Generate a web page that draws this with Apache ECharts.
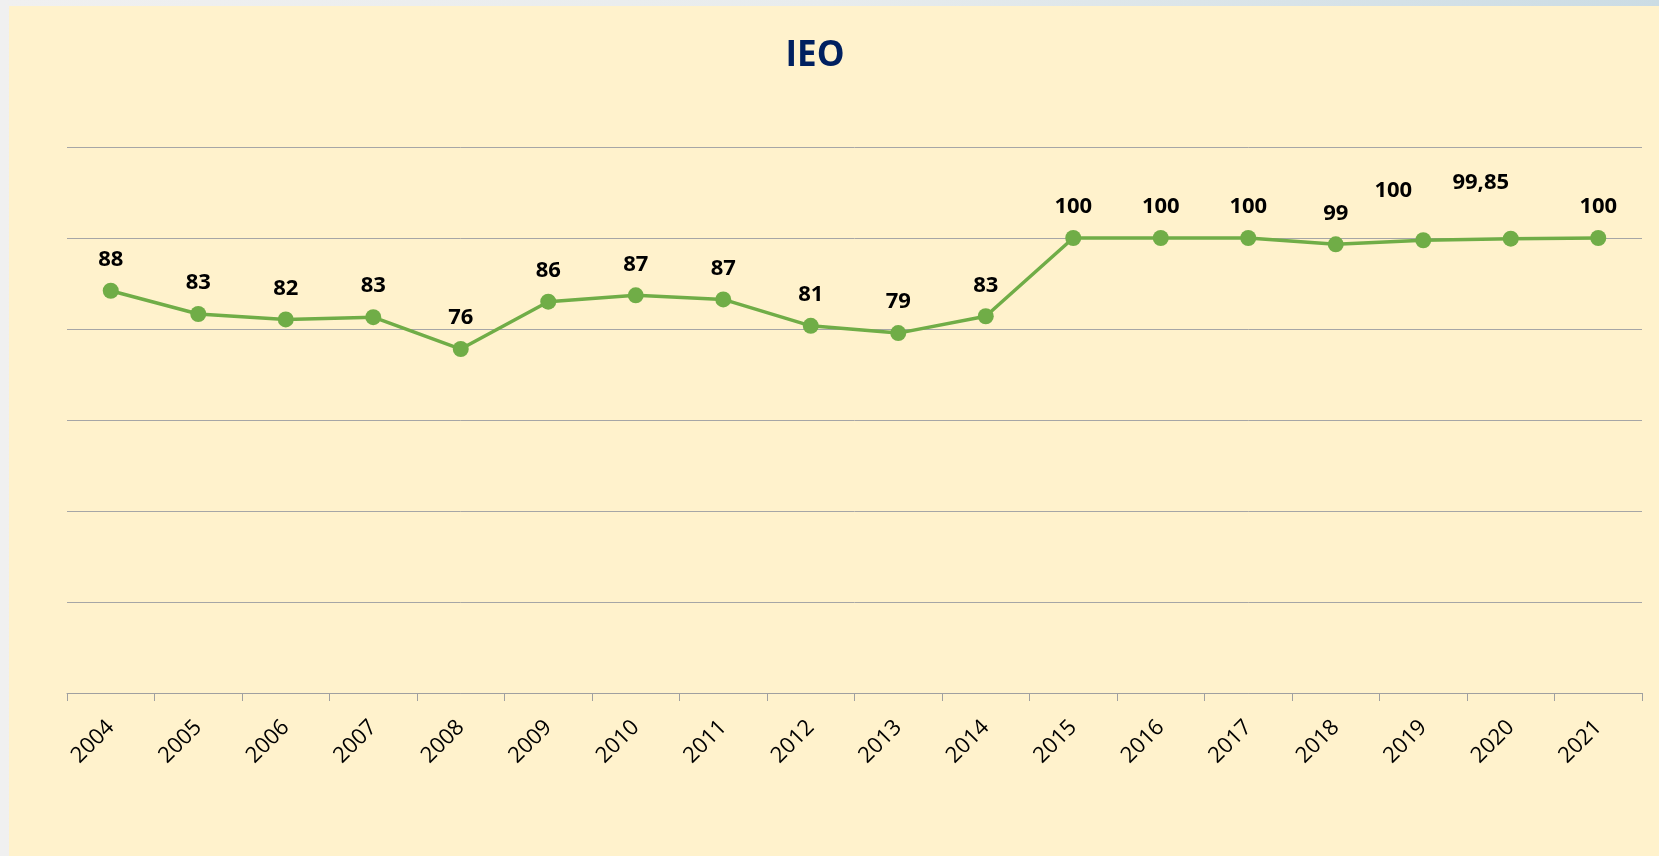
<!DOCTYPE html>
<html>
<head>
<meta charset="utf-8">
<script src="https://cdn.jsdelivr.net/npm/echarts@6/dist/echarts.min.js"></script>
<style>
  html, body {
    margin: 0;
    padding: 0;
    width: 1659px;
    height: 856px;
    overflow: hidden;
    background: linear-gradient(90deg, #f0f0f0 0%, #e8eced 50%, #cbdce4 100%);
  }
  .panel {
    position: absolute;
    left: 9px;
    top: 6px;
    right: 0;
    bottom: 0;
    background: #fff2cc;
  }
  #chart {
    position: absolute;
    left: 0;
    top: 0;
    width: 1659px;
    height: 856px;
  }
</style>
</head>
<body>
<div class="panel"></div>
<div id="chart"></div>
<script>
// anni
var years = ['2004', '2005', '2006', '2007', '2008', '2009', '2010', '2011', '2012',
  '2013', '2014', '2015', '2016', '2017', '2018', '2019', '2020', '2021']
// valori IEO
var ieoValues = [88.4, 83.3, 82.1, 82.6, 75.6, 86.0, 87.4, 86.5, 80.7,
  79.1, 82.8, 100, 100, 100, 98.6, 99.5, 99.85, 100]
// etichette come mostrate
var ieoLabels = ['88', '83', '82', '83', '76', '86', '87', '87', '81',
  '79', '83', '100', '100', '100', '99', '100', '99,85', '100']

var green = '#70ad47'

var chart = echarts.init(document.getElementById('chart'))

// alcune etichette sono spostate a mano nell'originale
var nudge = { 15: [-30, -19], 16: [-30, -25] }

var seriesData = ieoValues.map(function (v, i) {
  var item = { value: v }
  if (nudge[i]) {
    item.label = { offset: nudge[i] }
  }
  return item
})

var option = {
  animation: false,
  title: {
    text: 'IEO',
    left: 810,
    top: 34,
    textAlign: 'center',
    textStyle: {
      fontFamily: 'Open Sans',
      fontWeight: 'bold',
      fontSize: 35,
      color: '#002060'
    }
  },
  grid: {
    left: 67,
    right: 17,
    top: 147,
    bottom: 163,
    containLabel: false
  },
  xAxis: {
    type: 'category',
    data: years,
    boundaryGap: true,
    axisLine: {
      lineStyle: { color: '#a0a0a0', width: 1 }
    },
    axisTick: {
      show: true,
      length: 8,
      lineStyle: { color: '#a0a0a0' }
    },
    axisLabel: {
      rotate: 45,
      margin: 31,
      interval: 0,
      fontFamily: 'Open Sans',
      fontSize: 22,
      color: '#000'
    }
  },
  yAxis: {
    type: 'value',
    min: 0,
    max: 120,
    interval: 20,
    axisLabel: { show: false },
    axisLine: { show: false },
    axisTick: { show: false },
    splitLine: {
      lineStyle: { color: '#a6a6a6', width: 1 }
    }
  },
  series: [{
    type: 'line',
    data: seriesData,
    symbol: 'circle',
    symbolSize: 16,
    lineStyle: { color: green, width: 3.5 },
    itemStyle: { color: green },
    label: {
      show: true,
      position: 'top',
      distance: 12,
      fontFamily: 'Open Sans',
      fontWeight: 'bold',
      fontSize: 22,
      color: '#000',
      formatter: function (p) {
        return ieoLabels[p.dataIndex]
      }
    }
  }]
}

chart.setOption(option)
</script>
</body>
</html>
